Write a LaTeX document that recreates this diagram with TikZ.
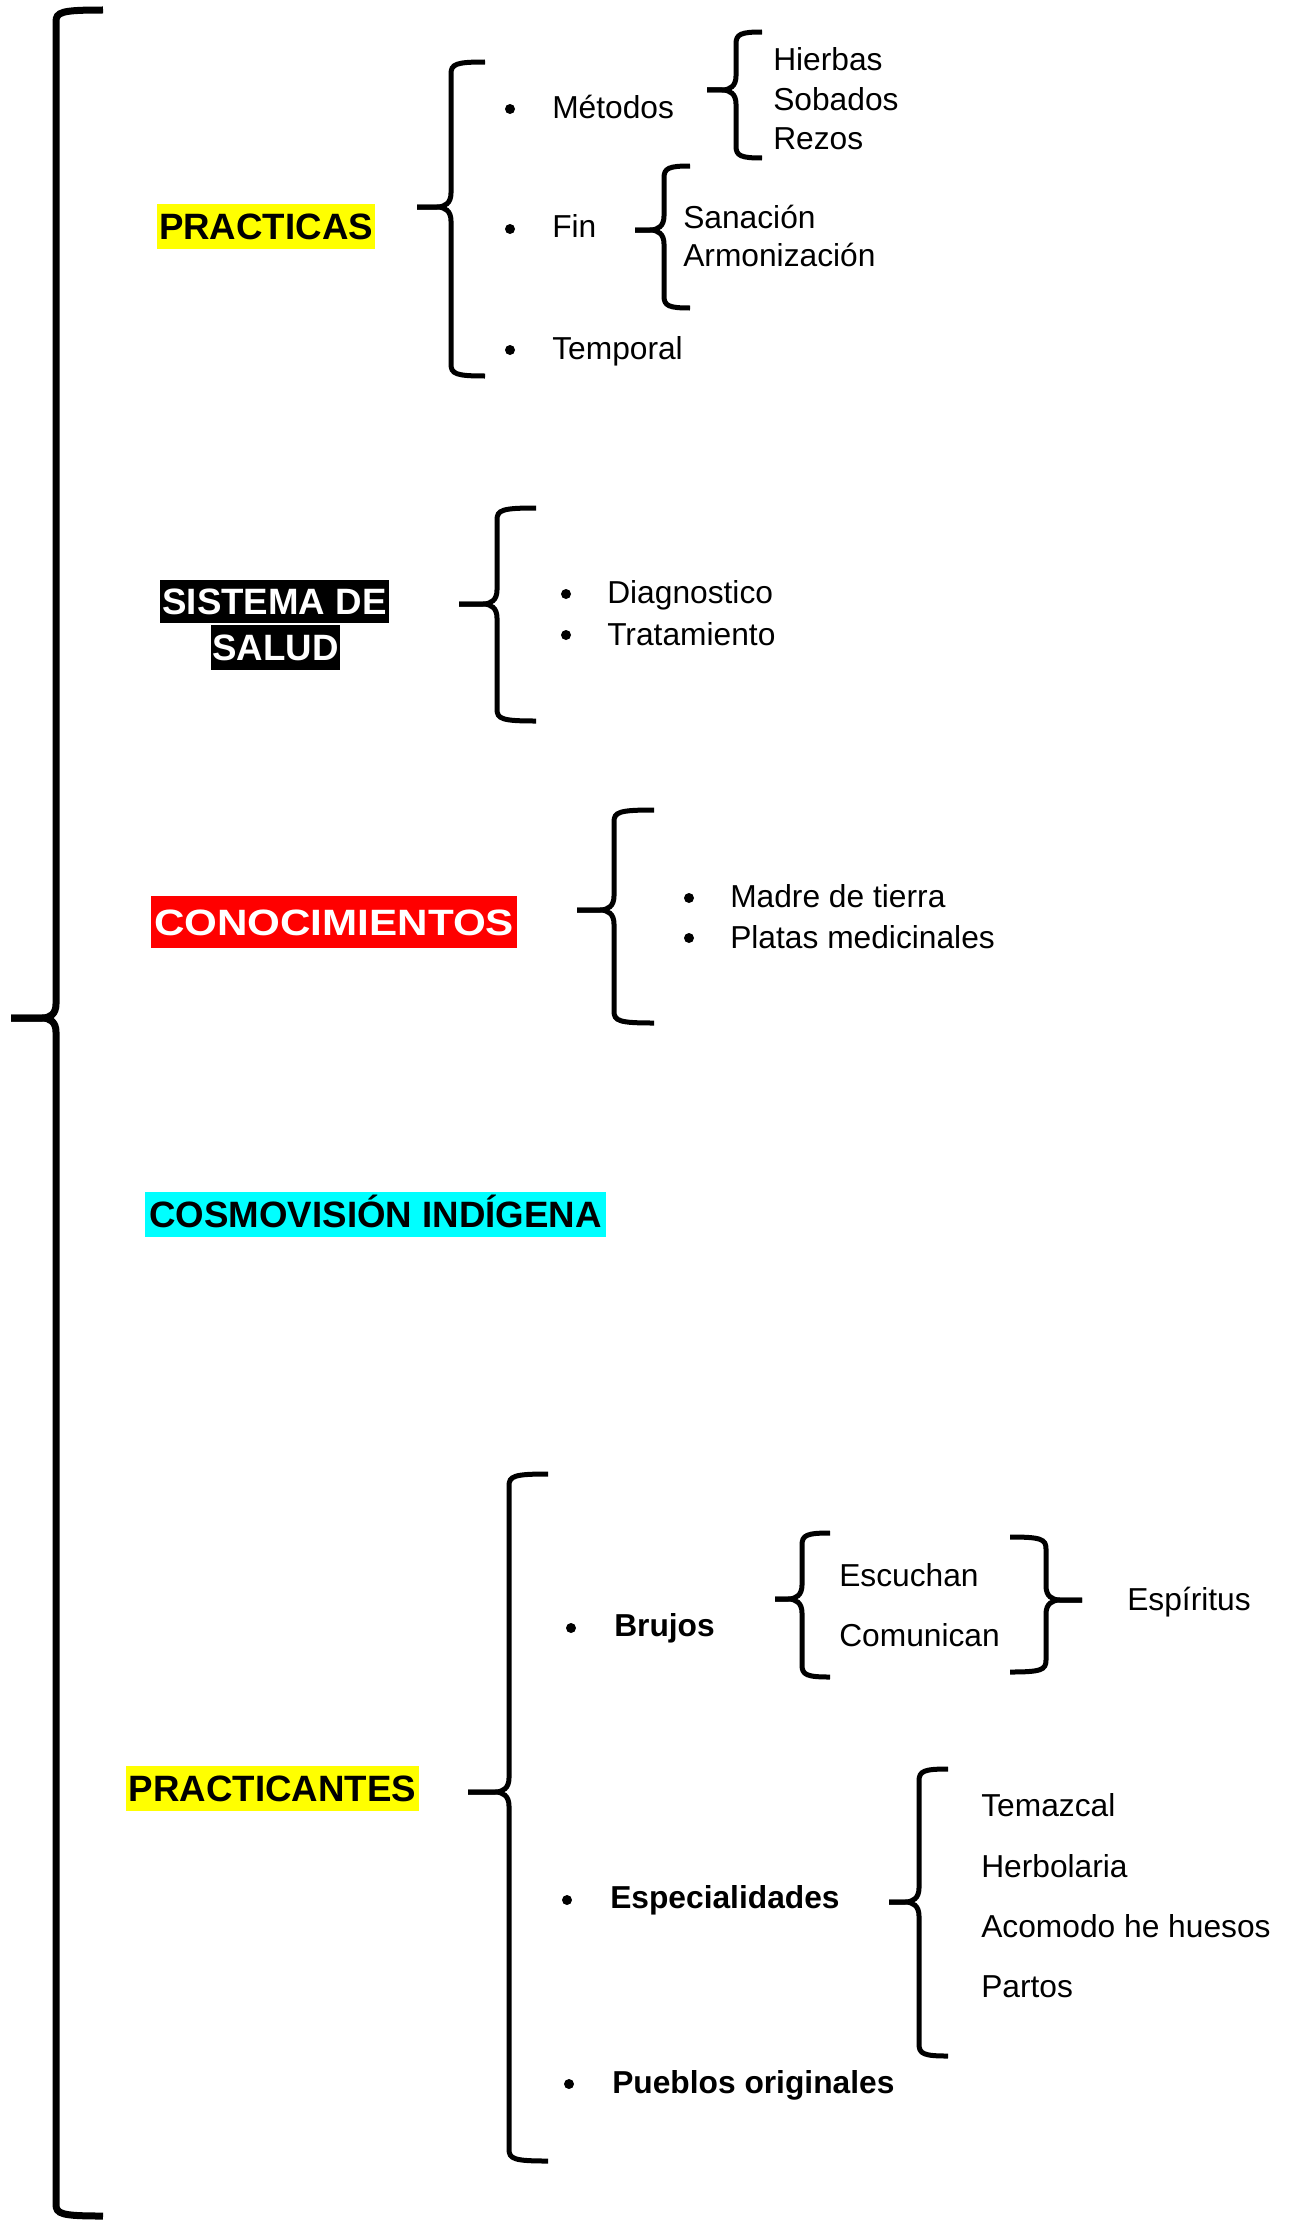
\documentclass[tikz,border=0pt]{standalone}
\usepackage{fontspec}
\setmainfont{Liberation Sans}
\definecolor{hlyellow}{RGB}{255,255,0}
\definecolor{hlcyan}{RGB}{0,255,255}
\definecolor{hlred}{RGB}{255,0,0}
\newcommand\fsT{\fontsize{23.8pt}{28pt}\selectfont}
\newcommand\fsH{\fontsize{27.5pt}{33pt}\selectfont\bfseries}
% left-opening brace: #1 vx, #2 hook x, #3 tip x, #4 top, #5 tip y, #6 bottom, #7 line width
\newcommand\mybrL[7]{%
  \draw[line width=#7] (#2,#4) .. controls ({#1+5},#4) and (#1,{#4+2}) .. (#1,{#4+12}) -- (#1,{#5-14}) .. controls (#1,{#5-4}) and ({#1-6},#5) .. ({#1-14},#5) -- (#3,#5);
  \draw[line width=#7] (#3,#5) -- ({#1-14},#5) .. controls ({#1-6},#5) and (#1,{#5+4}) .. (#1,{#5+14}) -- (#1,{#6-12}) .. controls (#1,{#6-2}) and ({#1+5},#6) .. (#2,#6);
}
% right-opening brace
\newcommand\mybrR[7]{%
  \draw[line width=#7] (#2,#4) .. controls ({#1-5},#4) and (#1,{#4+2}) .. (#1,{#4+12}) -- (#1,{#5-14}) .. controls (#1,{#5-4}) and ({#1+6},#5) .. ({#1+14},#5) -- (#3,#5);
  \draw[line width=#7] (#3,#5) -- ({#1+14},#5) .. controls ({#1+6},#5) and (#1,{#5+4}) .. (#1,{#5+14}) -- (#1,{#6-12}) .. controls (#1,{#6-2}) and ({#1-5},#6) .. (#2,#6);
}
\begin{document}
\begin{tikzpicture}[x=0.75pt,y=-0.75pt,
  txt/.style={anchor=base west,inner sep=0pt,font=\fsT},
  btxt/.style={anchor=base west,inner sep=0pt,font=\fsT\bfseries},
  head/.style={inner sep=0pt,text height=19.7pt,text depth=0pt,font=\fsH,align=center},
  bul/.style={circle,fill=black,inner sep=0pt,minimum size=7.5pt},
]
\fill[white] (0,0) rectangle (1293,2223);
\useasboundingbox (0,0) rectangle (1293,2223);

% main brace
\mybrL{56}{103}{11}{10}{1018}{2216}{5.25pt}

% ---------- PRACTICAS ----------
\node[head,fill=hlyellow,minimum width=163.5pt,minimum height=33.75pt] (practicas) at (266,226.5) {PRACTICAS};
\mybrL{451}{485}{417}{62}{207}{376}{3.75pt}
\node[bul] (b1) at (510,109) {};
\node[bul] (b2) at (510,229) {};
\node[bul] (b3) at (510,350) {};
\node[txt] (metodos) at (552,118) {Métodos};
\node[txt] (fin) at (552,237) {Fin};
\node[txt] (temporal) at (552,359) {Temporal};
\mybrL{736}{762}{707}{32}{90}{158}{3.75pt}
\node[txt] (hierbas) at (773,71) {Hierbas};
\node[txt] (sobados) at (773,110) {Sobados};
\node[txt] (rezos) at (773,149) {Rezos};
\mybrL{664}{690}{635}{166}{230}{308}{3.75pt}
\node[txt] (sanacion) at (683,228) {Sanación};
\node[txt] (armon) at (683,266) {Armonización};

% ---------- SISTEMA DE SALUD ----------
\node[head,fill=black,text=white,minimum width=171.75pt,minimum height=32.25pt] (sist) at (274.5,601.5) {SISTEMA DE};
\node[head,fill=black,text=white,minimum width=96.75pt,minimum height=33.75pt] (salud) at (275.5,647.5) {SALUD};
\mybrL{497}{536}{459}{508}{604}{721}{3.75pt}
\node[bul] (b4) at (566,594) {};
\node[bul] (b5) at (566,635) {};
\node[txt] (diag) at (607,603) {Diagnostico};
\node[txt] (trat) at (607,645) {Tratamiento};

% ---------- CONOCIMIENTOS ----------
\node[head,fill=hlred,text=white,minimum width=274.5pt,minimum height=39pt] (conoc) at (334,922) {\scalebox{1.15}[1]{CONOCIMIENTOS}};
\mybrL{614}{654}{577}{810}{910}{1023}{3.75pt}
\node[bul] (b6) at (689,898) {};
\node[bul] (b7) at (689,938) {};
\node[txt] (madre) at (730,907) {Madre de tierra};
\node[txt] (platas) at (730,948) {Platas medicinales};

% ---------- COSMOVISION ----------
\node[head,fill=hlcyan,minimum width=345.75pt,minimum height=33.75pt] (cosmo) at (375.5,1214.5) {COSMOVISIÓN INDÍGENA};

% ---------- PRACTICANTES ----------
\node[head,fill=hlyellow,minimum width=219.75pt,minimum height=33.75pt] (practicantes) at (272.5,1788.5) {PRACTICANTES};
\mybrL{509}{548}{468}{1474}{1792}{2161}{3.75pt}
\node[bul] (b8) at (571,1628) {};
\node[bul] (b9) at (567,1900) {};
\node[bul] (b10) at (569,2084) {};
\node[btxt] (brujos) at (614,1636) {Brujos};
\node[btxt] (espec) at (610,1908) {Especialidades};
\node[btxt] (pueblos) at (612,2093) {Pueblos originales};
\mybrL{802}{830}{775}{1533}{1599}{1677}{3.75pt}
\node[txt] (escuchan) at (839,1586) {Escuchan};
\node[txt] (comunican) at (839,1646) {Comunican};
\mybrR{1046}{1010}{1082}{1537}{1600}{1672}{3.75pt}
\node[txt] (espiritus) at (1127,1610) {Espíritus};
\mybrL{919}{948}{889}{1769}{1902}{2056}{3.75pt}
\node[txt] (temazcal) at (981,1816) {Temazcal};
\node[txt] (herbolaria) at (981,1877) {Herbolaria};
\node[txt] (acomodo) at (981,1937) {Acomodo he huesos};
\node[txt] (partos) at (981,1997) {Partos};
\end{tikzpicture}
\end{document}
